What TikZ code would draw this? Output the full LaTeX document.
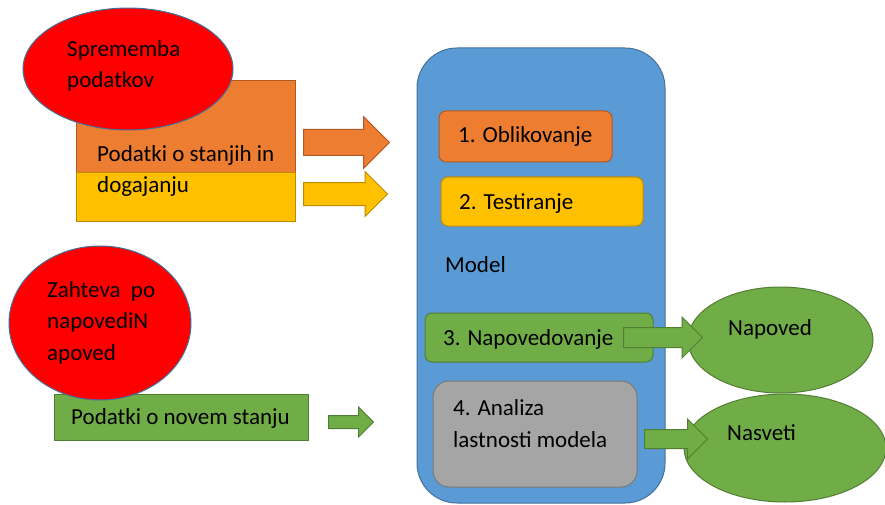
\documentclass[tikz,border=0pt]{standalone}
\usepackage{fontspec}
\setmainfont{Carlito}
\usetikzlibrary{shapes.geometric,shapes.arrows,positioning}

\definecolor{offred}{HTML}{FF0000}
\definecolor{offorange}{HTML}{ED7D31}
\definecolor{offyellow}{HTML}{FFC000}
\definecolor{offgreen}{HTML}{70AD47}
\definecolor{offblue}{HTML}{5B9BD5}
\definecolor{offgray}{HTML}{A5A5A5}
\definecolor{blueedge}{HTML}{41719C}
\definecolor{orangeedge}{HTML}{AE5A21}
\definecolor{yellowedge}{HTML}{BC8C00}
\definecolor{greenedge}{HTML}{507E32}
\definecolor{grayedge}{HTML}{787878}

\begin{document}
\begin{tikzpicture}[
    x=1pt, y=-1pt,
    every node/.style={font=\fontsize{23}{31.5}\selectfont},
    bubble/.style={ellipse, draw=blueedge, fill=offred, line width=1pt, inner sep=0pt},
    result/.style={ellipse, draw=greenedge, fill=offgreen, line width=1pt, inner sep=0pt},
    databox/.style={rectangle, line width=1pt, inner sep=0pt},
    stage/.style={rectangle, rounded corners=7pt, line width=1pt, inner sep=0pt},
    blockarr/.style={single arrow, single arrow head indent=0pt, line width=1pt, inner xsep=0pt, anchor=tail},
    txt/.style={anchor=base west, inner sep=0pt, align=left}
]
\useasboundingbox (0,0) rectangle (885,505);

% Input data
\node[databox, draw=orangeedge, fill=offorange, minimum width=219, minimum height=92] (stanja) at (185.5,127) {};
\node[databox, draw=yellowedge, fill=offyellow, minimum width=219, minimum height=48] (dogodki) at (185.5,197) {};
\node[databox, draw=greenedge, fill=offgreen, minimum width=254, minimum height=46] (novo) at (181,417) {};
\node[bubble, minimum width=210, minimum height=122] (sprememba) at (128,69) {};
\node[bubble, minimum width=182, minimum height=154] (zahteva) at (100,323) {};

% Model with its stages
\node[rectangle, rounded corners=40pt, draw=blueedge, fill=offblue, line width=1pt, minimum width=248, minimum height=455] (model) at (541,275.5) {};
\node[stage, draw=orangeedge, fill=offorange, minimum width=173, minimum height=51] (oblik) at (525.5,136.5) {};
\node[stage, draw=yellowedge, fill=offyellow, minimum width=202, minimum height=49] (test) at (542,201.5) {};
\node[stage, draw=greenedge, fill=offgreen, minimum width=228, minimum height=49] (napov) at (539,337.5) {};
\node[stage, rounded corners=16pt, draw=grayedge, fill=offgray, minimum width=204, minimum height=106] (analiza) at (535,434) {};

% Outputs
\node[result, minimum width=185, minimum height=106] (napoved) at (780.5,340) {};
\node[result, minimum width=202, minimum height=108] (nasveti) at (785,448) {};

% Block arrows
\node[blockarr, draw=orangeedge, fill=offorange, minimum height=86, inner ysep=12.5, single arrow head extend=13] (arrA) at (303,142.5) {};
\node[blockarr, draw=yellowedge, fill=offyellow, minimum height=84, inner ysep=11, single arrow head extend=11] (arrB) at (303,194) {};
\node[blockarr, draw=greenedge, fill=offgreen, minimum height=45, inner ysep=6, single arrow head extend=8.5] (arrC) at (328,422) {};
\node[blockarr, draw=greenedge, fill=offgreen, minimum height=79, inner ysep=9.5, single arrow head extend=10.5] (arrD) at (623,337.5) {};
\node[blockarr, draw=greenedge, fill=offgreen, minimum height=63, inner ysep=9, single arrow head extend=10.5] (arrE) at (644,439) {};

% Texts
\node[txt] (tspr) at (67,88) {Sprememba\\podatkov};
\node[txt] (tstanja) at (97,193) {Podatki o stanjih in\\dogajanju};
\node[txt] (tzah) at (47,360) {Zahteva\ \ po\\napovediN\\apoved};
\node[txt] (tnovo) at (71,424) {Podatki o novem stanju};
\node[txt] (toblik) at (458,143) {1. Oblikovanje};
\node[txt] (ttest) at (459,209) {2. Testiranje};
\node[txt] (tmodel) at (445,272) {Model};
\node[txt] (tnapov) at (443,345) {3. Napovedovanje};
\node[txt] (tanal) at (453,447) {4. Analiza\\lastnosti modela};
\node[txt] (tnapoved) at (728,335) {Napoved};
\node[txt] (tnasveti) at (727,440) {Nasveti};

\end{tikzpicture}
\end{document}
